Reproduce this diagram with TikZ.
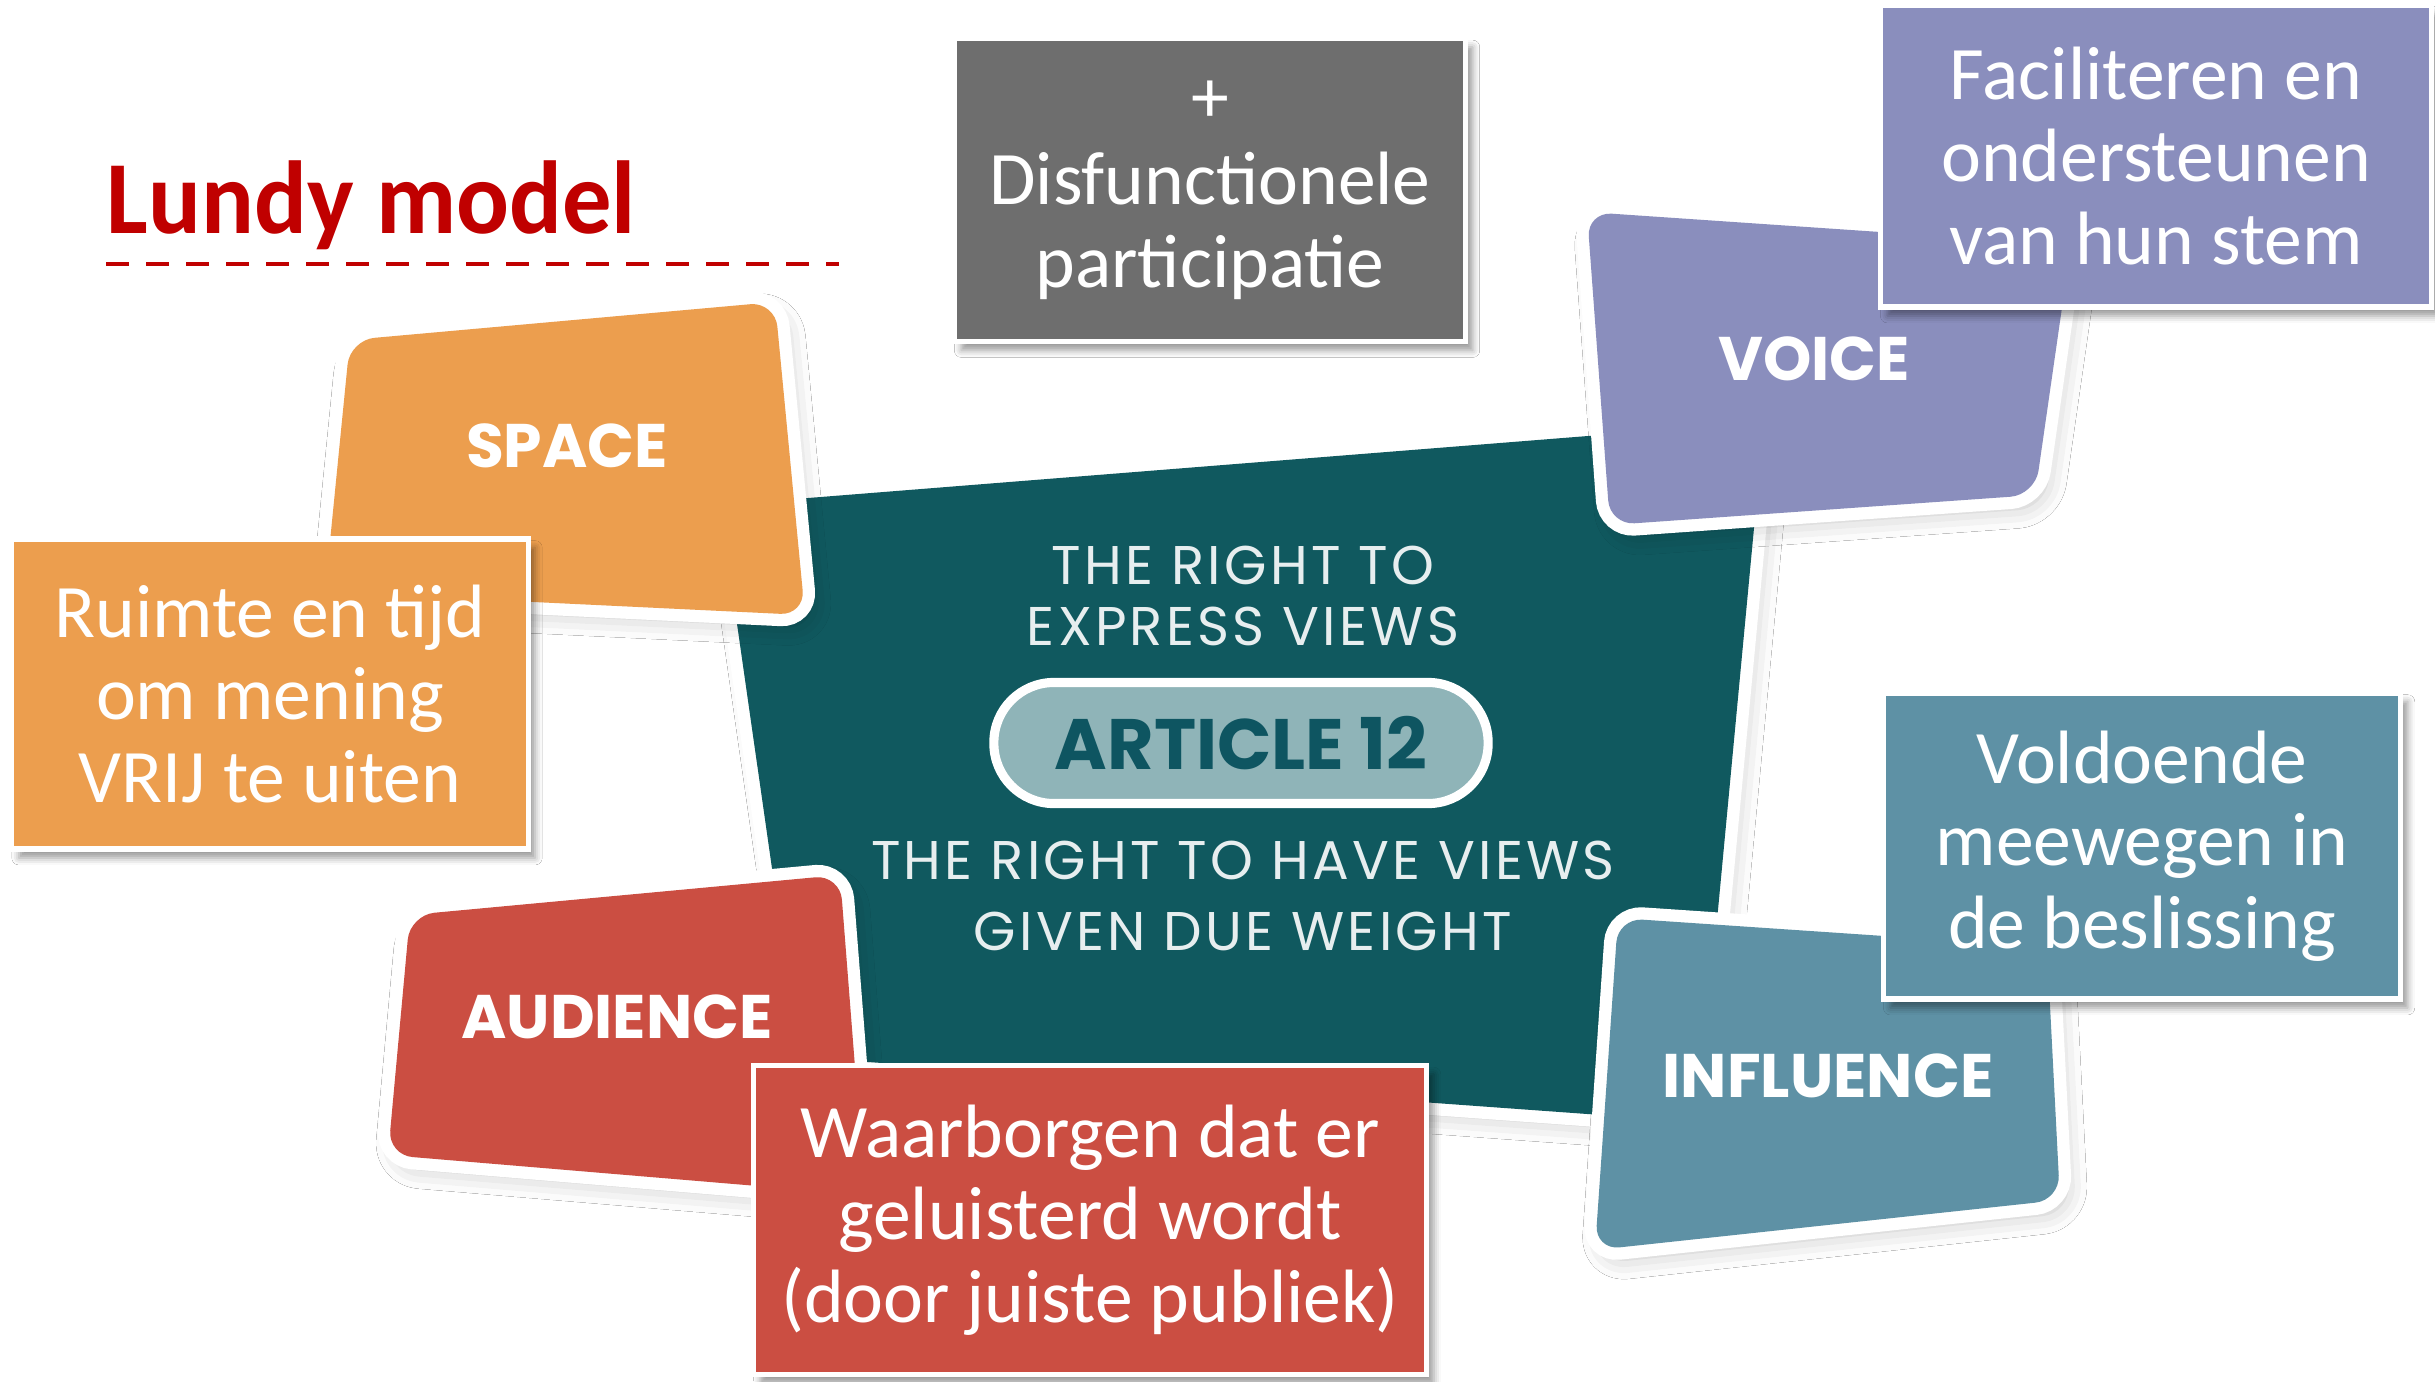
\documentclass[tikz,border=0pt]{standalone}
\usepackage{fontspec}
\usepackage{xcolor}
\usepackage{tikz}
\usetikzlibrary{shadows.blur}
\newfontfamily\boxfont{Carlito}
\newfontfamily\headfont[FakeStretch=0.95]{Carlito}
\newfontfamily\cardfont{Poppins}
\newfontfamily\midfont[LetterSpace=6]{Poppins}
\definecolor{spaceC}{HTML}{EC9E4E}
\definecolor{voiceC}{HTML}{8A8EBD}
\definecolor{audC}{HTML}{CB4E42}
\definecolor{inflC}{HTML}{5E91A5}
\definecolor{tealC}{HTML}{10595F}
\definecolor{pillC}{HTML}{8FB4B8}
\definecolor{pilltxt}{HTML}{0E5561}
\definecolor{greyC}{HTML}{6E6E6E}
\definecolor{titleC}{HTML}{C00000}
\tikzset{
  card/.style={rounded corners=7pt, blur shadow={shadow xshift=2pt, shadow yshift=-3pt, shadow blur radius=6pt, shadow opacity=25},
    preaction={draw=white, line width=7pt}},
  cardlab/.style={text=white, font=\cardfont\bfseries\fontsize{17.5}{20}\selectfont},
  midtxt/.style={text=white!90!tealC, align=center, font=\midfont\fontsize{15.5}{17.6}\selectfont},
  pill/.style={fill=pillC, draw=white, line width=2.6pt, rounded corners=0.6cm, minimum width=4.94cm, minimum height=1.21cm,
    text=pilltxt, font=\cardfont\bfseries\fontsize{20.3}{22}\selectfont},
  callout/.style={draw=white, line width=1.5pt, inner sep=0pt, align=center, text=white,
    font=\boxfont\fontsize{21.5}{23.5}\selectfont,
    blur shadow={shadow xshift=2pt, shadow yshift=-2.5pt, shadow blur radius=2pt, shadow opacity=40}},
  ttl/.style={text=titleC, inner sep=0pt, font=\headfont\bfseries\fontsize{29.5}{32}\selectfont},
}
\begin{document}
\begin{tikzpicture}[x=0.01cm, y=-0.01cm]
  \useasboundingbox (0,0) rectangle (2435,1381);
  \fill[white] (0,0) rectangle (2435,1381);

  \node[ttl, anchor=base west] (title) at (106,233) {Lundy model};
  \coordinate (dl) at (106,264);
  \coordinate (dr) at (839,264);
  \draw[titleC, line width=1.4pt, dash pattern=on 0.23cm off 0.17cm] (dl) -- (dr);

  \path[card, fill=tealC] (720,505) -- (1764,422) -- (1698,1122) -- (799,1057) -- cycle;
  \node[midtxt] (express) at (1243,596) {THE RIGHT TO\\EXPRESS VIEWS};
  \node[pill] (art) at (1241,743) {ARTICLE 12};
  \node[midtxt, font=\midfont\fontsize{15.5}{20.4}\selectfont] (weight) at (1243,896) {THE RIGHT TO HAVE VIEWS\\GIVEN DUE WEIGHT};

  \path[card, fill=spaceC] (350,340) -- (775,302) -- (805,615) -- (325,592) -- cycle;
  \node[cardlab] (space) at (567,446) {SPACE};
  \path[card, fill=voiceC] (1587,212) -- (2071,245) -- (2035,495) -- (1610,525) -- cycle;
  \node[cardlab] (voice) at (1814,359) {VOICE};
  \path[card, fill=audC] (410,915) -- (840,875) -- (865,1195) -- (388,1155) -- cycle;
  \node[cardlab] (audience) at (617,1017) {AUDIENCE};
  \path[card, fill=inflC] (1618,918) -- (2047,947) -- (2060,1200) -- (1595,1250) -- cycle;
  \node[cardlab] (influence) at (1828,1076) {INFLUENCE};

  \node[callout, fill=greyC, minimum width=5.11cm, minimum height=3.03cm] (dysf) at (1210,190) {+\\Disfunctionele\\participatie};
  \node[callout, fill=voiceC, minimum width=5.51cm, minimum height=3.02cm] (cvoice) at (2156,156) {Faciliteren en\\ondersteunen\\van hun stem};
  \node[callout, fill=spaceC, minimum width=5.16cm, minimum height=3.10cm] (cspace) at (270,694) {Ruimte en tijd\\om mening\\VRIJ te uiten};
  \node[callout, fill=inflC, minimum width=5.17cm, minimum height=3.06cm] (cinfl) at (2142,846) {Voldoende\\meewegen in\\de beslissing};
  \node[callout, fill=audC, minimum width=6.73cm, minimum height=3.09cm] (caud) at (1090,1220) {Waarborgen dat er\\geluisterd wordt\\(door juiste publiek)};
\end{tikzpicture}
\end{document}
